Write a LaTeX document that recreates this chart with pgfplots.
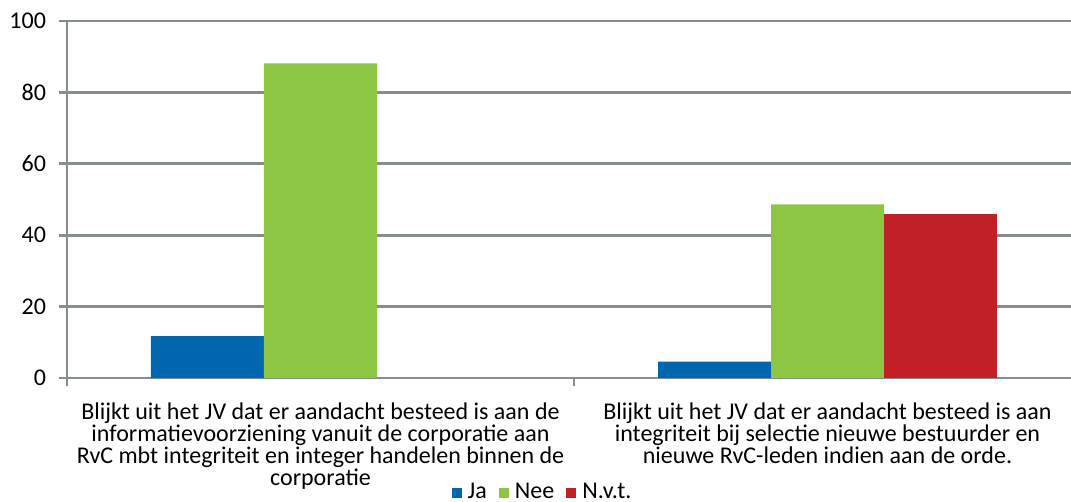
\documentclass[border=0pt]{standalone}
\usepackage{pgfplots}
\pgfplotsset{compat=1.18}
\usepackage{fontspec}
\setmainfont{Carlito}
\definecolor{cJa}{HTML}{0066AE}
\definecolor{cNee}{HTML}{8DC642}
\definecolor{cNvt}{HTML}{C02026}
\definecolor{gridc}{HTML}{868D8E}
\begin{document}
\begin{tikzpicture}
\begin{axis}[
  at={(0,0)}, anchor=south west,
  scale only axis, width=507pt, height=178.5pt,
  xmin=-0.5, xmax=1.5, ymin=0, ymax=100,
  ybar=0pt, bar width=56.5pt,
  axis x line*=bottom, axis y line*=left,
  axis line style={gridc, line width=1.4pt},
  ytick={0,20,40,60,80,100},
  ymajorgrids, grid style={gridc, line width=1.4pt},
  tick align=outside, major tick length=4pt,
  tick style={gridc, line width=1.4pt},
  xtick={-0.5,0.5,1.5}, xticklabels={},
  extra x ticks={0,1},
  extra x tick style={major tick length=0pt, grid=none},
  extra x tick labels={{Blijkt uit het JV dat er aandacht besteed is aan de\\informatievoorziening vanuit de corporatie aan\\RvC mbt integriteit en integer handelen binnen de\\corporatie},
                       {Blijkt uit het JV dat er aandacht besteed is aan\\integriteit bij selectie nieuwe bestuurder en\\nieuwe RvC-leden indien aan de orde.}},
  xticklabel style={align=center, font=\fontsize{12}{11}\selectfont, text=black, yshift=-9pt},
  yticklabel style={font=\fontsize{12}{12}\selectfont, text=black, xshift=-3pt},
  /pgf/number format/assume math mode=true,
  legend style={at={(0.47,-0.321)}, anchor=center, draw=none, legend columns=-1,
    font=\fontsize{12}{12}\selectfont,
    /tikz/every odd column/.append style={column sep=1pt}},
  legend image code/.code={\fill[#1] (0pt,-2.5pt) rectangle (5pt,2.5pt);},
  clip=false,
]
\addplot[fill=cJa, draw=none] coordinates {(0,11.7) (1,4.6)};
\addplot[fill=cNee, draw=none] coordinates {(0,88.1) (1,48.6)};
\addplot[fill=cNvt, draw=none] coordinates {(1,45.9)};
\legend{Ja\rule{4pt}{0pt},Nee\rule{4pt}{0pt},N.v.t.}
\end{axis}
\pgfresetboundingbox
\path (-33.5pt,-62pt) rectangle (502pt,189pt);
\end{tikzpicture}
\end{document}
